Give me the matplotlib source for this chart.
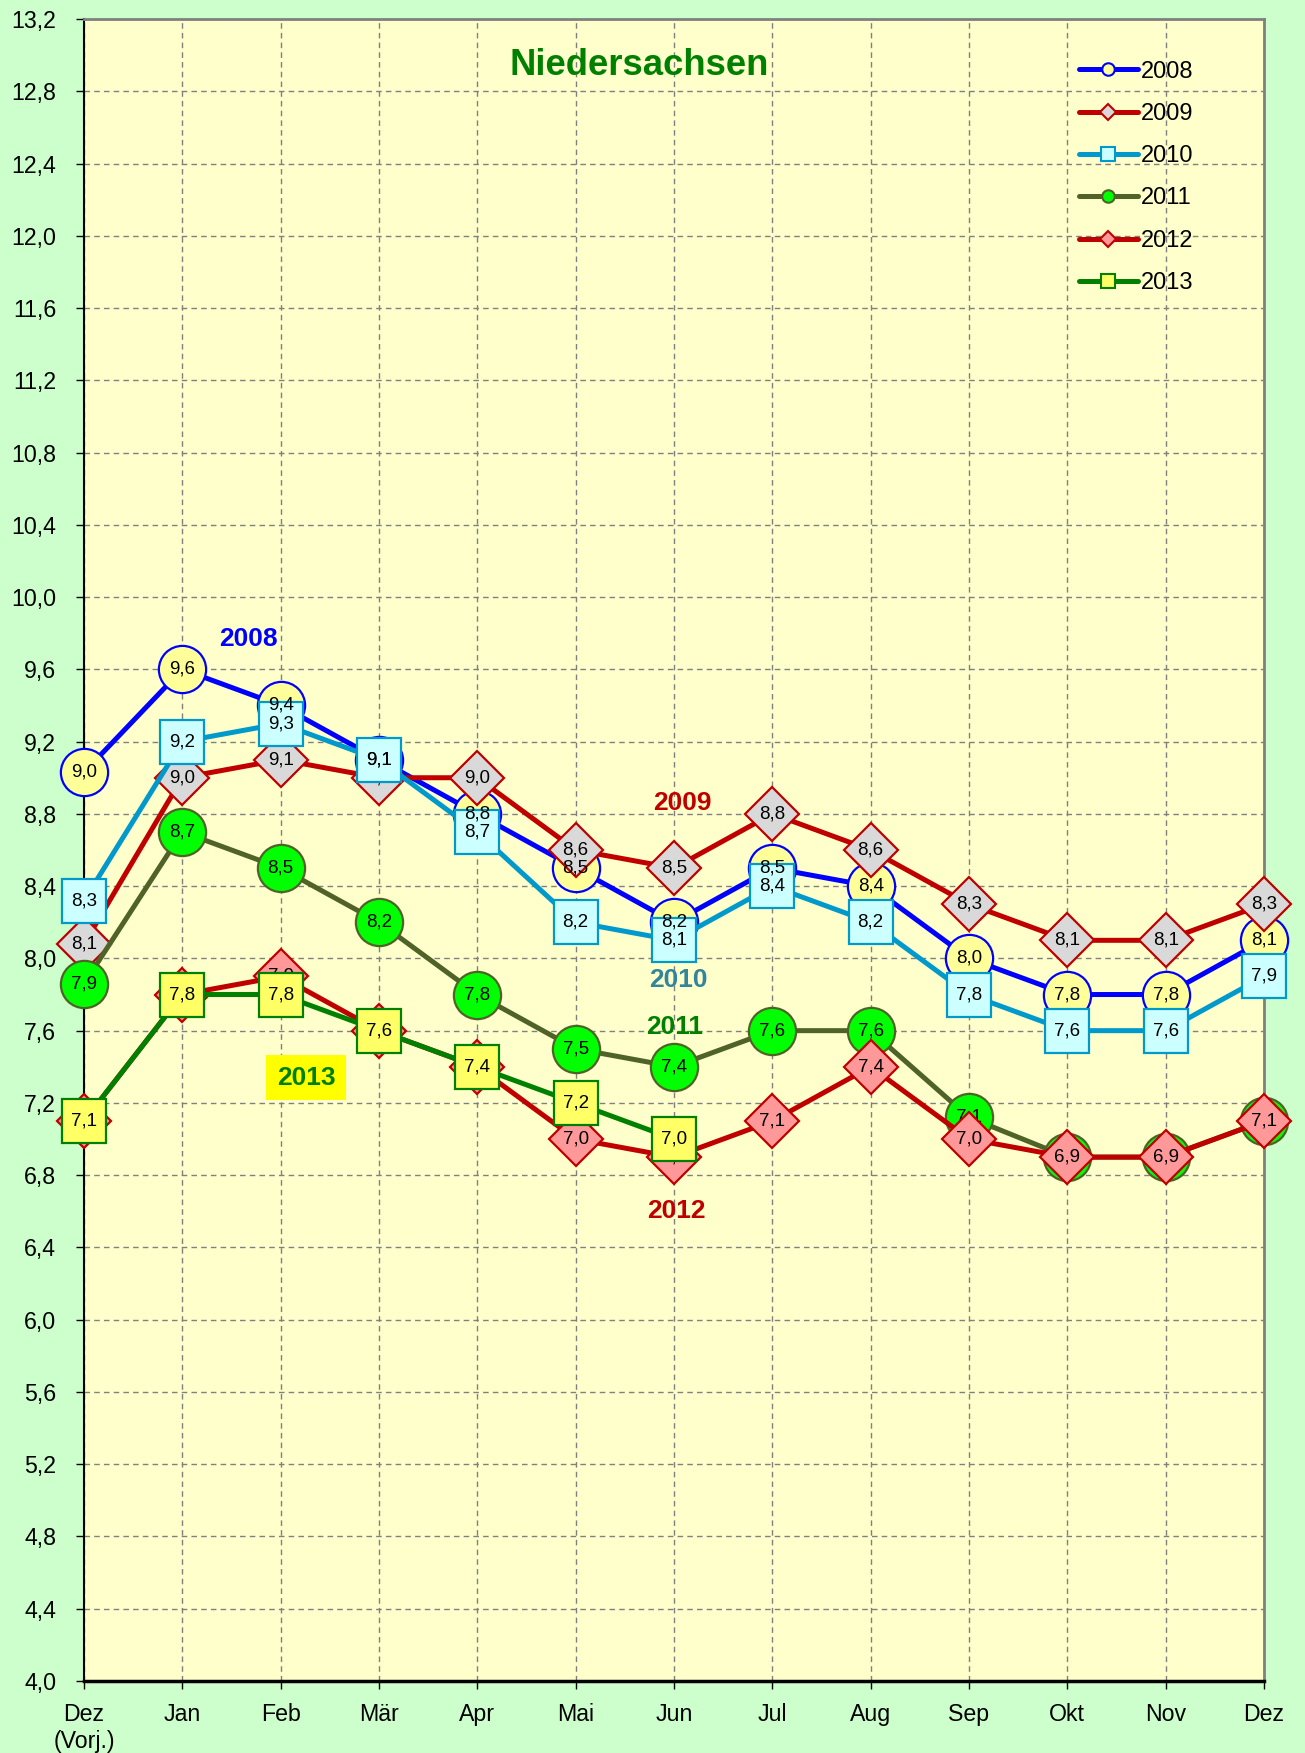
import matplotlib
matplotlib.use("Agg")
import matplotlib.pyplot as plt
from matplotlib.ticker import FixedLocator, FuncFormatter

# ---------------- data ----------------
months = ["Dez\n(Vorj.)", "Jan", "Feb", "Mär", "Apr", "Mai", "Jun",
          "Jul", "Aug", "Sep", "Okt", "Nov", "Dez"]
years = ["2008", "2009", "2010", "2011", "2012", "2013"]
v2008 = [9.03, 9.6, 9.4, 9.1, 8.8, 8.5, 8.2, 8.5, 8.4, 8.0, 7.8, 7.8, 8.1]
v2009 = [8.08, 9.0, 9.1, 9.0, 9.0, 8.6, 8.5, 8.8, 8.6, 8.3, 8.1, 8.1, 8.3]
v2010 = [8.32, 9.2, 9.3, 9.1, 8.7, 8.2, 8.1, 8.4, 8.2, 7.8, 7.6, 7.6, 7.9]
v2011 = [7.86, 8.7, 8.5, 8.2, 7.8, 7.5, 7.4, 7.6, 7.6, 7.12, 6.9, 6.9, 7.1]
v2012 = [7.1, 7.8, 7.9, 7.6, 7.4, 7.0, 6.9, 7.1, 7.4, 7.0, 6.9, 6.9, 7.1]
v2013 = [7.1, 7.8, 7.8, 7.6, 7.4, 7.2, 7.0]
series = [v2008, v2009, v2010, v2011, v2012, v2013]

y_min, y_max, y_step = 4.0, 13.2, 0.4
title = "Niedersachsen"

# in-chart year annotations (text, x index, y value)
ann_text = ["2008", "2009", "2010", "2011", "2012"]
ann_x = [1.67, 6.09, 6.04, 6.01, 6.02]
ann_y = [9.77, 8.86, 7.88, 7.62, 6.60]
ann_2013 = ("2013", 2.26, 7.34)

# ---------------- styles ----------------
styles = [
    dict(color="#0000FF", marker="o", mfc="#FFFF99", mec="#0000FF", ms=34),
    dict(color="#C00000", marker="D", mfc="#D9D9D9", mec="#C00000", ms=28),
    dict(color="#0099CC", marker="s", mfc="#CCFFFF", mec="#0099CC", ms=31),
    dict(color="#4F6228", marker="o", mfc="#00FF00", mec="#4F6228", ms=34),
    dict(color="#C00000", marker="D", mfc="#FF9999", mec="#C00000", ms=28),
    dict(color="#008000", marker="s", mfc="#FFFF66", mec="#008000", ms=31),
]
label_z = [8.5, 6, 8, 10, 12, 14]
legend_ms = [9, 8, 10, 9, 8, 10]
ann_colors = ["#0000FF", "#C00000", "#31859C", "#008000", "#C00000"]

plt.rcParams["font.family"] = ["Liberation Sans", "DejaVu Sans"]

fig = plt.figure(figsize=(13.05, 17.53), dpi=100, facecolor="#CCFFCC")
ax = fig.add_axes([84 / 1305, 1 - 1681 / 1753, 1180 / 1305, 1662 / 1753])
ax.set_facecolor("#FFFFCC")

for k, (vals, st, name) in enumerate(zip(series, styles, years)):
    xs = list(range(len(vals)))
    ax.plot(xs, vals, color=st["color"], lw=3.6, marker=st["marker"],
            markersize=st["ms"], markerfacecolor=st["mfc"],
            markeredgecolor=st["mec"], markeredgewidth=1.6,
            solid_joinstyle="round", solid_capstyle="round",
            zorder=3 + 2 * k, label=name, clip_on=False)
    for x, v in zip(xs, vals):
        ax.text(x, v, f"{v:.1f}".replace(".", ","), ha="center", va="center",
                fontsize=13.5, color="black", zorder=label_z[k])

# axes setup
ax.set_xlim(0, len(months) - 1)
ax.set_ylim(y_min, y_max)
nt = int(round((y_max - y_min) / y_step))
yt = [y_min + i * y_step for i in range(nt + 1)]
ax.yaxis.set_major_locator(FixedLocator(yt))
ax.yaxis.set_major_formatter(FuncFormatter(lambda v, p: f"{v:.1f}".replace(".", ",")))
ax.set_xticks(range(len(months)))
ax.set_xticklabels(months)
ax.tick_params(axis="both", direction="out", length=6, width=1, colors="black",
               labelsize=16.7)
ax.tick_params(axis="y", pad=14)
ax.tick_params(axis="x", pad=10)
ax.grid(True, color="#808080", linestyle=(0, (4, 3)), linewidth=1)
ax.set_axisbelow(True)
for s in ["top", "right"]:
    ax.spines[s].set_color("#808080")
    ax.spines[s].set_linewidth(2)
ax.spines["left"].set_color("black")
ax.spines["left"].set_linewidth(1.5)
ax.spines["bottom"].set_color("black")
ax.spines["bottom"].set_linewidth(2.5)

# title
ax.text(0.4703, 0.9663, title, transform=ax.transAxes, ha="center", va="baseline",
        fontsize=26.3, fontweight="bold", color="#008000", zorder=30)

# annotations
for t, x, y, c in zip(ann_text, ann_x, ann_y, ann_colors):
    ax.text(x, y, t, ha="center", va="center", fontsize=19, fontweight="bold",
            color=c, zorder=30)
ax.text(ann_2013[1], ann_2013[2], ann_2013[0], ha="center", va="center",
        fontsize=19, fontweight="bold", color="#008000", zorder=30,
        bbox=dict(boxstyle="square,pad=0.4", facecolor="#FFFF00", edgecolor="none"))

# legend
leg = ax.legend(loc="upper left", bbox_to_anchor=(0.843, 0.975), frameon=False,
                fontsize=17, handlelength=2.5, handletextpad=0.15,
                labelspacing=0.86, borderpad=0, borderaxespad=0)
for h, ms in zip(leg.legend_handles, legend_ms):
    h.set_markersize(ms)
    h.set_markeredgewidth(1.5)
leg.set_zorder(40)

fig.savefig("out.png", dpi=100, facecolor=fig.get_facecolor())
